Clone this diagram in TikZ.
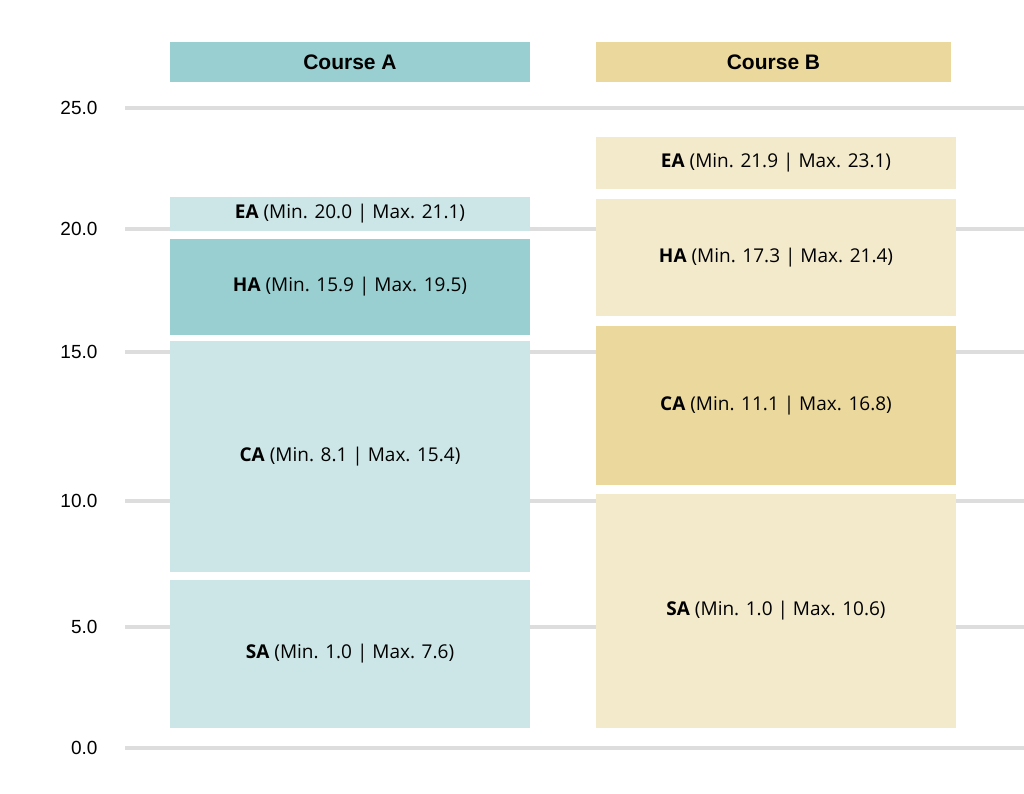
\documentclass[tikz,border=0pt]{standalone}
\usepackage{fontspec}
\setmainfont{Open Sans}
\newfontfamily\arialfont{Liberation Sans}
\definecolor{tealdark}{HTML}{99CFD0}
\definecolor{teallight}{HTML}{CCE6E7}
\definecolor{sanddark}{HTML}{EAD89D}
\definecolor{sandlight}{HTML}{F3EACC}
\definecolor{gridgrey}{HTML}{DDDDDD}
\tikzset{
  gridline/.style={draw=gridgrey, line width=3.5pt},
  ticklabel/.style={anchor=east, font=\arialfont\fontsize{19}{19}\selectfont},
  header/.style={inner sep=0pt, font=\arialfont\bfseries\fontsize{21}{21}\selectfont},
  band/.style={inner sep=0pt, font=\fontsize{19}{19}\selectfont},
}
\begin{document}
\begin{tikzpicture}[x=1pt,y=-1pt]
\useasboundingbox (0,0) rectangle (1024,794);
% axis
\foreach \val/\ypos in {0.0/748,5.0/627,10.0/501,15.0/352,20.0/229,25.0/108}{
  \draw[gridline] (125,\ypos) -- (1024,\ypos);
  \node[ticklabel] (tick\val) at (101,\ypos) {\val};
}
% Course A
\node[header, fill=tealdark, minimum width=360pt, minimum height=40pt] (headA) at (350,62) {Course A};
\node[band, fill=teallight, minimum width=360pt, minimum height=34pt] (eaA) at (350,214) {\textbf{EA} (Min. 20.0 | Max. 21.1)};
\node[band, fill=tealdark, minimum width=360pt, minimum height=96pt] (haA) at (350,287) {\textbf{HA} (Min. 15.9 | Max. 19.5)};
\node[band, fill=teallight, minimum width=360pt, minimum height=231pt] (caA) at (350,456.5) {\textbf{CA} (Min. 8.1 | Max. 15.4)};
\node[band, fill=teallight, minimum width=360pt, minimum height=148pt] (saA) at (350,654) {\textbf{SA} (Min. 1.0 | Max. 7.6)};
% Course B
\node[header, fill=sanddark, minimum width=355pt, minimum height=40pt] (headB) at (773.5,62) {Course B};
\node[band, fill=sandlight, minimum width=360pt, minimum height=52pt] (eaB) at (776,163) {\textbf{EA} (Min. 21.9 | Max. 23.1)};
\node[band, fill=sandlight, minimum width=360pt, minimum height=117pt] (haB) at (776,257.5) {\textbf{HA} (Min. 17.3 | Max. 21.4)};
\node[band, fill=sanddark, minimum width=360pt, minimum height=159pt] (caB) at (776,405.5) {\textbf{CA} (Min. 11.1 | Max. 16.8)};
\node[band, fill=sandlight, minimum width=360pt, minimum height=234pt] (saB) at (776,611) {\textbf{SA} (Min. 1.0 | Max. 10.6)};
\end{tikzpicture}
\end{document}
